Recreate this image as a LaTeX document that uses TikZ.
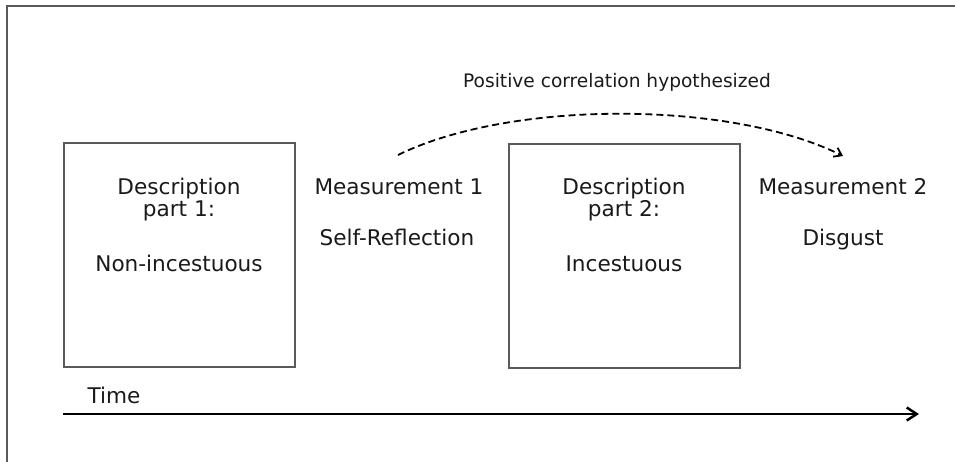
\documentclass[tikz,border=0pt]{standalone}
\usepackage{fontspec}
\setmainfont{DejaVu Sans}
\usetikzlibrary{arrows.meta}

\definecolor{framegray}{HTML}{5A5A5A}
\definecolor{inkblack}{HTML}{1A1A1A}

\tikzset{
  stagebox/.style={draw=framegray, line width=1.6pt, fill=white,
    minimum width=231pt, minimum height=224pt, inner sep=0pt, anchor=north west},
  bodytext/.style={font=\fontsize{21.6pt}{23pt}\selectfont, text=inkblack,
    anchor=base, inner sep=0pt},
  smalltext/.style={font=\fontsize{18.6pt}{20pt}\selectfont, text=inkblack,
    anchor=base, inner sep=0pt},
  corrarrow/.style={line width=1.8pt, dash pattern=on 7pt off 4pt,
    -{Straight Barb[length=7pt,width=10pt]}},
  timearrow/.style={line width=2.5pt, -{Straight Barb[length=10pt,width=13pt]}}
}

\begin{document}
\begin{tikzpicture}[x=1pt, y=-1pt]
  \useasboundingbox (0,0) rectangle (955,462);

  % outer frame, open to the right and bottom
  \draw[framegray, line width=1.6pt] (7,470) -- (7,6) -- (965,6);

  % stage boxes
  \node[stagebox] (box1) at (63,142) {};
  \node[stagebox] (box2) at (508,143) {};

  % text of first stage
  \node[bodytext] (d1a) at (179,195) {Description};
  \node[bodytext] (d1b) at (179,217) {part 1:};
  \node[bodytext] (d1c) at (179,272) {Non-incestuous};

  % text of second stage
  \node[bodytext] (d2a) at (624,195) {Description};
  \node[bodytext] (d2b) at (624,217) {part 2:};
  \node[bodytext] (d2c) at (624,272) {Incestuous};

  % measurements
  \node[bodytext] (m1) at (399,195) {Measurement 1};
  \node[bodytext] (m1b) at (397,246) {Self-Reflection};
  \node[bodytext] (m2) at (843,195) {Measurement 2};
  \node[bodytext] (m2b) at (843,246) {Disgust};

  % hypothesised correlation
  \node[smalltext] (corr) at (617,88) {Positive correlation hypothesized};
  \coordinate (corrStart) at (398,155);
  \coordinate (corrEnd) at (843,156);
  \draw[corrarrow] (corrStart) .. controls (510,100) and (730,100) .. (corrEnd);

  % time axis
  \node[bodytext] (time) at (114,403) {Time};
  \coordinate (timeStart) at (63,414);
  \coordinate (timeEnd) at (919,414);
  \draw[timearrow] (timeStart) -- (timeEnd);
\end{tikzpicture}
\end{document}
